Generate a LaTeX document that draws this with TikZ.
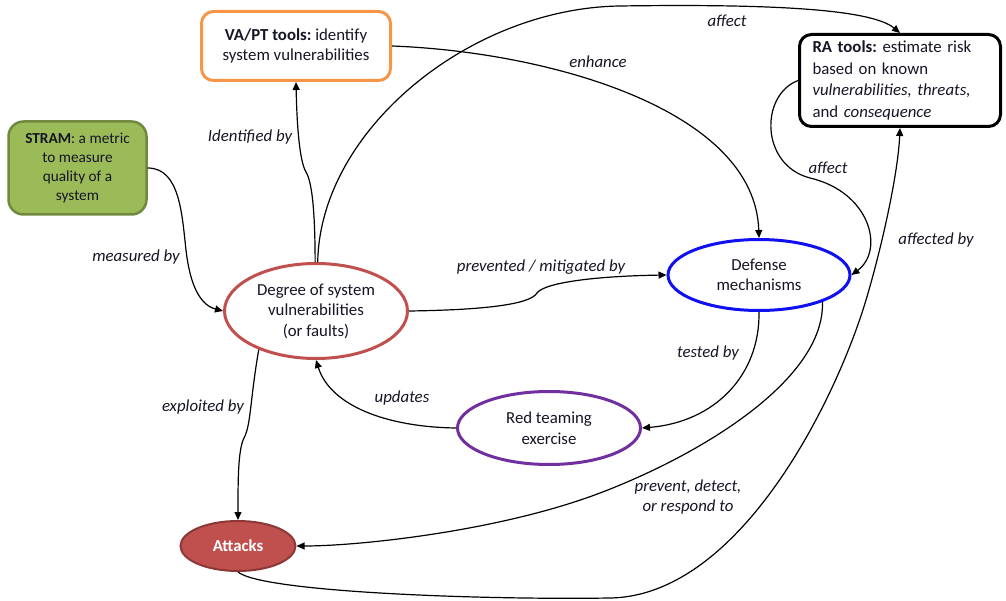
\documentclass[tikz,border=0pt]{standalone}
\usepackage{fontspec}
\setmainfont{Carlito}
\usetikzlibrary{shapes.geometric,arrows.meta}

\definecolor{vaorange}{HTML}{F79646}
\definecolor{stramfill}{HTML}{9BBB59}
\definecolor{stramedge}{HTML}{71893F}
\definecolor{degred}{HTML}{C0504D}
\definecolor{atkedge}{HTML}{8C3836}
\definecolor{defblue}{HTML}{1010F0}
\definecolor{rtpurple}{HTML}{7030A0}
\definecolor{ink}{HTML}{151525}

\frenchspacing

\begin{document}
\begin{tikzpicture}[x=1pt,y=-1pt,
  every node/.style={font=\fontsize{16.8}{20.5}\selectfont, text=ink},
  box/.style={rectangle, rounded corners=12pt, line width=3pt, inner sep=0pt, align=center},
  oval/.style={ellipse, line width=3pt, inner sep=0pt, align=center, fill=white},
  lbl/.style={font=\fontsize{16.8}{20}\selectfont\itshape, inner sep=0pt, align=center},
  link/.style={line width=1.2pt, draw=black, -{Triangle[length=8pt,width=7pt]}}
]
\useasboundingbox (0,0) rectangle (1006,601);

% ---- concepts ----
\node[box, draw=vaorange, fill=white, minimum width=189pt, minimum height=69pt]
  (vapt) at (296,46) {\textbf{VA/PT tools:} identify\\system vulnerabilities};
\node[box, draw=stramedge, fill=stramfill, line width=2.5pt, rounded corners=15pt,
  minimum width=138pt, minimum height=93pt, font=\fontsize{15.3}{18.8}\selectfont]
  (stram) at (77.5,168) {\textbf{STRAM}: a metric\\to measure\\quality of a\\system};
\node[box, draw=black, minimum width=201pt, minimum height=92pt, text width=175pt,
  align=left, inner xsep=13pt, font=\fontsize{16.8}{21.5}\selectfont]
  (ra) at (900,80.5) {\textbf{RA tools:} estimate risk\\based on known\\\textit{vulnerabilities, threats,}\\and \textit{consequence}};

\node[oval, draw=degred, minimum width=183pt, minimum height=95pt]
  (degree) at (316,311) {Degree of system\\vulnerabilities\\(or faults)};
\node[oval, draw=defblue, minimum width=182pt, minimum height=71pt]
  (defense) at (759,275) {Defense\\mechanisms};
\node[oval, draw=rtpurple, minimum width=183pt, minimum height=73pt]
  (redteam) at (549,428) {Red teaming\\exercise};
\node[oval, draw=atkedge, fill=degred, line width=2pt, minimum width=115pt,
  minimum height=50pt, text=white, font=\fontsize{16.8}{20}\selectfont\bfseries]
  (attacks) at (238,546) {Attacks};

% ---- relations ----
% identified by
\draw[link] (degree.91) .. controls (315,210) and (312,182) .. (306,172)
  .. controls (300,162) and (297,130) .. (vapt.south);
% affect (vulnerabilities -> RA tools)
\draw[link] (degree.88) .. controls (320,130) and (470,8) .. (620,6)
  .. controls (760,4) and (870,8) .. (ra.north);
% enhance
\draw[link] (vapt.east) .. controls (550,52) and (755,110) .. (defense.north);
% affect (RA tools -> defense)
\draw[link] (ra.west) .. controls (760,95) and (760,165) .. (810,178)
  .. controls (870,192) and (885,250) .. (defense.east);
% affected by
\draw[link] (attacks.south) .. controls (262,592) and (480,600) .. (610,598)
  .. controls (740,596) and (836,400) .. (866,300)
  .. controls (881,250) and (898,175) .. (ra.south);
% prevented / mitigated by
\draw[link] (degree.east) .. controls (480,310) and (530,305) .. (537,293)
  .. controls (545,282) and (600,276) .. (defense.west);
% tested by
\draw[link] (defense.south) .. controls (760,375) and (715,422) .. (redteam.east);
% prevent, detect, or respond to
\draw[link] (defense.337) .. controls (825,380) and (700,455) .. (600,493)
  .. controls (500,531) and (360,546) .. (attacks.east);
% exploited by
\draw[link] (degree.214) .. controls (250,400) and (251,425) .. (244,438)
  .. controls (238,450) and (238,480) .. (attacks.north);
% updates
\draw[link] (redteam.west) .. controls (385,427) and (330,405) .. (degree.south);
% measured by
\draw[link] (stram.east) .. controls (180,168) and (182,215) .. (186,250)
  .. controls (190,285) and (200,305) .. (degree.west);

% ---- relation labels ----
\node[lbl] (tIdent)     at (250,137) {Identified by};
\node[lbl] (tAffectA)   at (727,21)  {affect};
\node[lbl] (tEnhance)   at (598,62)  {enhance};
\node[lbl] (tAffectB)   at (828,168) {affect};
\node[lbl] (tAffected)  at (936,240) {affected by};
\node[lbl] (tMeasured)  at (136,257) {measured by};
\node[lbl] (tPrevented) at (541,267) {prevented / mitigated by};
\node[lbl] (tTested)    at (708,353) {tested by};
\node[lbl] (tPrevent)   at (688,497) {prevent, detect,\\or respond to};
\node[lbl] (tExploited) at (203,407) {exploited by};
\node[lbl] (tUpdates)   at (402,398) {updates};
\end{tikzpicture}
\end{document}
